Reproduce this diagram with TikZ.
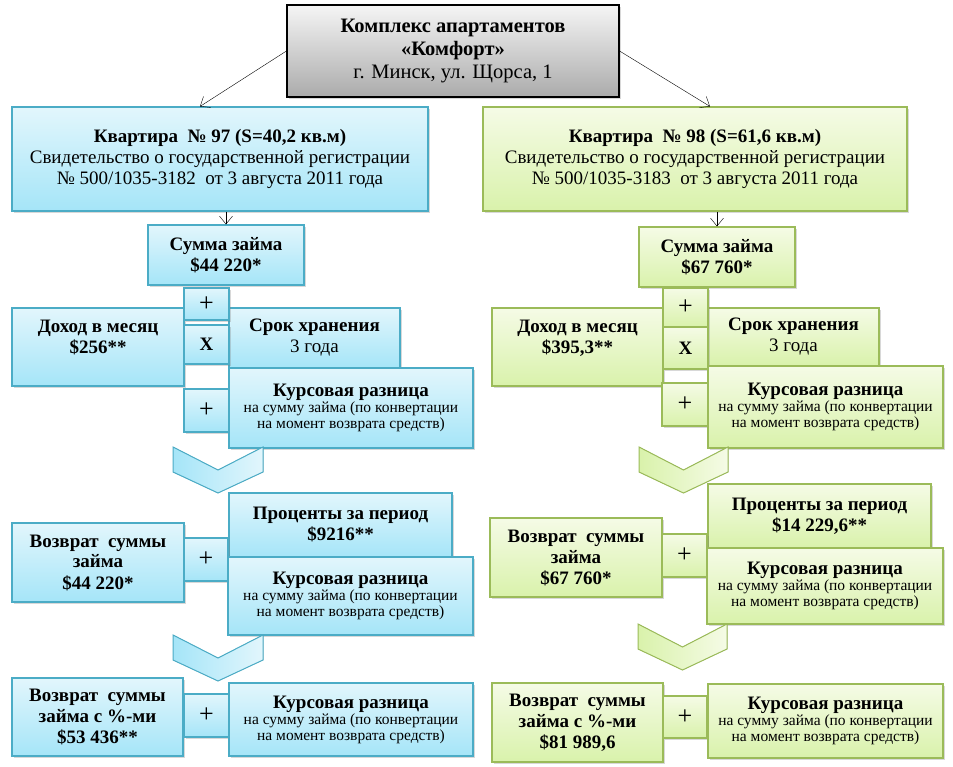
\documentclass[tikz,border=0pt]{standalone}
\usepackage{fontspec}
\setmainfont{Liberation Serif}
\usetikzlibrary{arrows.meta,shadows}

\definecolor{bluerim}{HTML}{4BACC6}
\definecolor{bluetop}{HTML}{E2F6FC}
\definecolor{bluebot}{HTML}{A5E5F8}
\definecolor{greenrim}{HTML}{9BBB59}
\definecolor{greentop}{HTML}{F5FBE6}
\definecolor{greenbot}{HTML}{D9F2AB}
\definecolor{graytop}{HTML}{F5F5F5}
\definecolor{graybot}{HTML}{ABABAB}

\newcommand{\hd}[1]{\textbf{#1}}
\newcommand{\sm}[1]{{\fontsize{15.5}{17}\selectfont #1}}

\begin{document}
\begin{tikzpicture}[x=1pt,y=-1pt,font=\fontsize{19}{21}\selectfont,>={Straight Barb[length=8pt,width=13pt]}]

\tikzstyle{block}=[rectangle,inner sep=0pt,align=center,line width=1.1pt,drop shadow={shadow xshift=1.5pt,shadow yshift=-2pt,opacity=0.3}]
\tikzstyle{topblock}=[block,draw=black,top color=graytop,bottom color=graybot,font=\fontsize{20.5}{23}\selectfont]
\tikzstyle{blueblock}=[block,draw=bluerim,top color=bluetop,bottom color=bluebot]
\tikzstyle{greenblock}=[block,draw=greenrim,top color=greentop,bottom color=greenbot]
\tikzstyle{opblue}=[blueblock,font=\fontsize{26}{28}\selectfont]
\tikzstyle{opgreen}=[greenblock,font=\fontsize{26}{28}\selectfont]
\tikzstyle{chevblue}=[draw=bluerim,line width=1pt,left color=bluebot,right color=bluetop]
\tikzstyle{chevgreen}=[draw=greenrim,line width=1pt,left color=greenbot,right color=greentop]

\fill[white] (0,0) rectangle (953,767);
\useasboundingbox (0,0) rectangle (953,767);

\node[topblock,minimum width=332,minimum height=92] (complex) at (453,51) {\hd{Комплекс апартаментов}\\\hd{«Комфорт»}\\г. Минск, ул. Щорса, 1};

% flat 97
\node[blueblock,minimum width=416,minimum height=104] (kv97) at (220,159) {\hd{Квартира\ \ №~97 (S=40,2 кв.м)}\\Свидетельство о государственной регистрации\\№ 500/1035-3182\ \ от 3 августа 2011 года};
\node[blueblock,minimum width=156,minimum height=60] (sum97) at (226,255) {\hd{Сумма займа}\\\hd{\$44 220*}};
\node[blueblock,minimum width=172,minimum height=78] (doh97) at (98,347) {};
\node (doh97txt) at ([yshift=9pt]doh97.center) [align=center] {\hd{Доход в месяц}\\\hd{\$256**}};
\node[blueblock,minimum width=171,minimum height=60] (srok97) at (314.5,338) {\hd{Срок хранения}\\3 года};
\node[opblue,minimum width=45,minimum height=32] (plusa97) at (206.5,304) {+};
\node[blueblock,minimum width=45,minimum height=39] (mul97) at (206.5,344.5) {\hd{X}};
\node[opblue,minimum width=45,minimum height=43] (plusb97) at (206.5,410.5) {+};
\node[blueblock,minimum width=244,minimum height=80] (kursa97) at (351,408) {\hd{Курсовая разница}\\[-5pt]\sm{на сумму займа (по конвертации}\\[-5pt]\sm{на момент возврата средств)}};
\filldraw[chevblue] (173,447) -- (218,470) -- (263,447) -- (263,472) -- (218,493) -- (173,472) -- cycle;
\node[blueblock,minimum width=223,minimum height=64] (proc97) at (340.5,525) {\hd{Проценты за период}\\\hd{\$9216**}};
\node[blueblock,minimum width=172,minimum height=79] (vozv97) at (98,562.5) {\hd{Возврат\ \ суммы}\\\hd{займа}\\\hd{\$44 220*}};
\node[opblue,minimum width=44,minimum height=43] (plusc97) at (206,559.5) {+};
\node[blueblock,minimum width=245,minimum height=78] (kursb97) at (350.5,596) {\hd{Курсовая разница}\\[-5pt]\sm{на сумму займа (по конвертации}\\[-5pt]\sm{на момент возврата средств)}};
\filldraw[chevblue] (173,635) -- (218,658) -- (263,635) -- (263,660) -- (218,681) -- (173,660) -- cycle;
\node[blueblock,minimum width=171,minimum height=78] (vozp97) at (97.5,717) {\hd{Возврат\ \ суммы}\\\hd{займа с \%-ми}\\\hd{\$53 436**}};
\node[opblue,minimum width=45,minimum height=43] (plusd97) at (206.5,715.5) {+};
\node[blueblock,minimum width=244,minimum height=73] (kursc97) at (351,719.5) {\hd{Курсовая разница}\\[-5pt]\sm{на сумму займа (по конвертации}\\[-5pt]\sm{на момент возврата средств)}};

% flat 98
\node[greenblock,minimum width=424,minimum height=104] (kv98) at (695,159) {\hd{Квартира\ \ №~98 (S=61,6 кв.м)}\\Свидетельство о государственной регистрации\\№ 500/1035-3183\ \ от 3 августа 2011 года};
\node[greenblock,minimum width=156,minimum height=60] (sum98) at (717,257) {\hd{Сумма займа}\\\hd{\$67 760*}};
\node[greenblock,minimum width=171,minimum height=78] (doh98) at (577.5,347) {};
\node (doh98txt) at ([yshift=9pt]doh98.center) [align=center] {\hd{Доход в месяц}\\\hd{\$395,3**}};
\node[greenblock,minimum width=171,minimum height=58] (srok98) at (793.5,337) {\hd{Срок хранения}\\3 года};
\node[opgreen,minimum width=45,minimum height=39] (plusa98) at (685.5,307.5) {+};
\node[greenblock,minimum width=45,minimum height=42] (mul98) at (685.5,348) {\hd{X}};
\node[opgreen,minimum width=46,minimum height=43] (plusb98) at (685,404.5) {+};
\node[greenblock,minimum width=235,minimum height=82] (kursa98) at (825.5,407) {\hd{Курсовая разница}\\[-5pt]\sm{на сумму займа (по конвертации}\\[-5pt]\sm{на момент возврата средств)}};
\filldraw[chevgreen] (639,447) -- (683.5,470) -- (728,447) -- (728,472) -- (683.5,493) -- (639,472) -- cycle;
\node[greenblock,minimum width=223,minimum height=64] (proc98) at (819.5,516) {\hd{Проценты за период}\\\hd{\$14 229,6**}};
\node[greenblock,minimum width=172,minimum height=79] (vozv98) at (576,557.5) {\hd{Возврат\ \ суммы}\\\hd{займа}\\\hd{\$67 760*}};
\node[opgreen,minimum width=45,minimum height=43] (plusc98) at (684.5,555.5) {+};
\node[greenblock,minimum width=236,minimum height=76] (kursb98) at (825,586) {\hd{Курсовая разница}\\[-5pt]\sm{на сумму займа (по конвертации}\\[-5pt]\sm{на момент возврата средств)}};
\filldraw[chevgreen] (638,624) -- (682.5,647) -- (727,624) -- (727,649) -- (682.5,670) -- (638,649) -- cycle;
\node[greenblock,minimum width=171,minimum height=79] (vozp98) at (577.5,722.5) {\hd{Возврат\ \ суммы}\\\hd{займа с \%-ми}\\\hd{\$81 989,6}};
\node[opgreen,minimum width=44,minimum height=42] (plusd98) at (685,717) {+};
\node[greenblock,minimum width=235,minimum height=74] (kursc98) at (825.5,721) {\hd{Курсовая разница}\\[-5pt]\sm{на сумму займа (по конвертации}\\[-5pt]\sm{на момент возврата средств)}};

\draw[->] (complex.west) -- ([xshift=-20pt]kv97.north);
\draw[->] (complex.east) -- ([xshift=15pt]kv98.north);
\draw[->] (sum97.north |- kv97.south) -- (sum97.north);
\draw[->] (sum98.north |- kv98.south) -- (sum98.north);
\end{tikzpicture}
\end{document}
